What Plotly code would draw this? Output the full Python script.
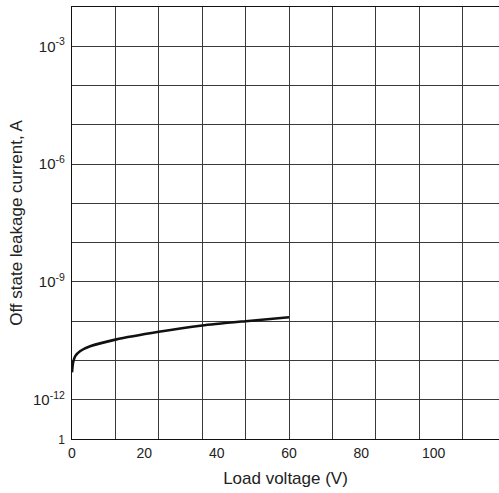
import plotly.graph_objects as go

# Data (load voltage in V, leakage current in A)
voltage = [0, 0.3, 0.9, 2.3, 5, 12, 24, 36, 48, 60]
leakage = [5.0e-12, 8.9e-12, 1.29e-11, 1.74e-11, 2.29e-11, 3.39e-11, 5.37e-11, 7.76e-11, 1.0e-10, 1.26e-10]

x_tick_vals = [0, 20, 40, 60, 80, 100]
x_grid_vals = [12, 24, 36, 48, 60, 72, 84, 96, 108]
y_tick_vals = [1e-13, 1e-12, 1e-11, 1e-10, 1e-9, 1e-8, 1e-7, 1e-6, 1e-5, 1e-4, 1e-3]
y_tick_text = ["<span style='font-size:12px'>1</span>", "10<sup>-12</sup>", "", "", "10<sup>-9</sup>", "", "",
               "10<sup>-6</sup>", "", "", "10<sup>-3</sup>"]

FONT = "Liberation Sans, Arial, sans-serif"
GRID = "#3a3a3a"
TXT = "#222222"

fig = go.Figure()
fig.add_trace(go.Scatter(x=voltage, y=leakage, mode="lines",
                         line=dict(color="#111111", width=2.6, shape="spline", smoothing=0.6),
                         showlegend=False, hoverinfo="skip"))
# carrier trace for the labelled x axis
fig.add_trace(go.Scatter(x=[None], y=[None], xaxis="x2", showlegend=False, hoverinfo="skip"))

fig.update_layout(
    width=499, height=493,
    margin=dict(l=72, r=0, t=7, b=54),
    paper_bgcolor="white", plot_bgcolor="white",
    font=dict(family=FONT, size=14, color=TXT),
    xaxis=dict(range=[0, 118.05], tickmode="array", tickvals=x_grid_vals,
               showticklabels=False, ticks="", showgrid=True, gridcolor=GRID, gridwidth=1,
               showline=True, linecolor="#111111", linewidth=1.2, mirror=True, zeroline=False),
    xaxis2=dict(range=[0, 118.05], overlaying="x", side="bottom", anchor="y",
                tickmode="array", tickvals=x_tick_vals, ticks="outside", ticklen=1, tickcolor="rgba(0,0,0,0)",
                showgrid=False, zeroline=False, showline=False,
                tickfont=dict(size=14, family=FONT, color=TXT),
                title=dict(text="Load voltage (V)", font=dict(size=17, family=FONT, color=TXT), standoff=12)),
    yaxis=dict(type="log", range=[-13, -2], tickmode="array", tickvals=y_tick_vals, ticktext=y_tick_text,
               ticks="outside", ticklen=3, tickcolor="rgba(0,0,0,0)", showgrid=True, gridcolor=GRID, gridwidth=1,
               showline=True, linecolor="#111111", linewidth=1.2, zeroline=False,
               tickfont=dict(size=15, family=FONT, color=TXT),
               title=dict(text="Off state leakage current, A", font=dict(size=17, family=FONT, color=TXT), standoff=6)),
)

fig.write_html("out.html")
